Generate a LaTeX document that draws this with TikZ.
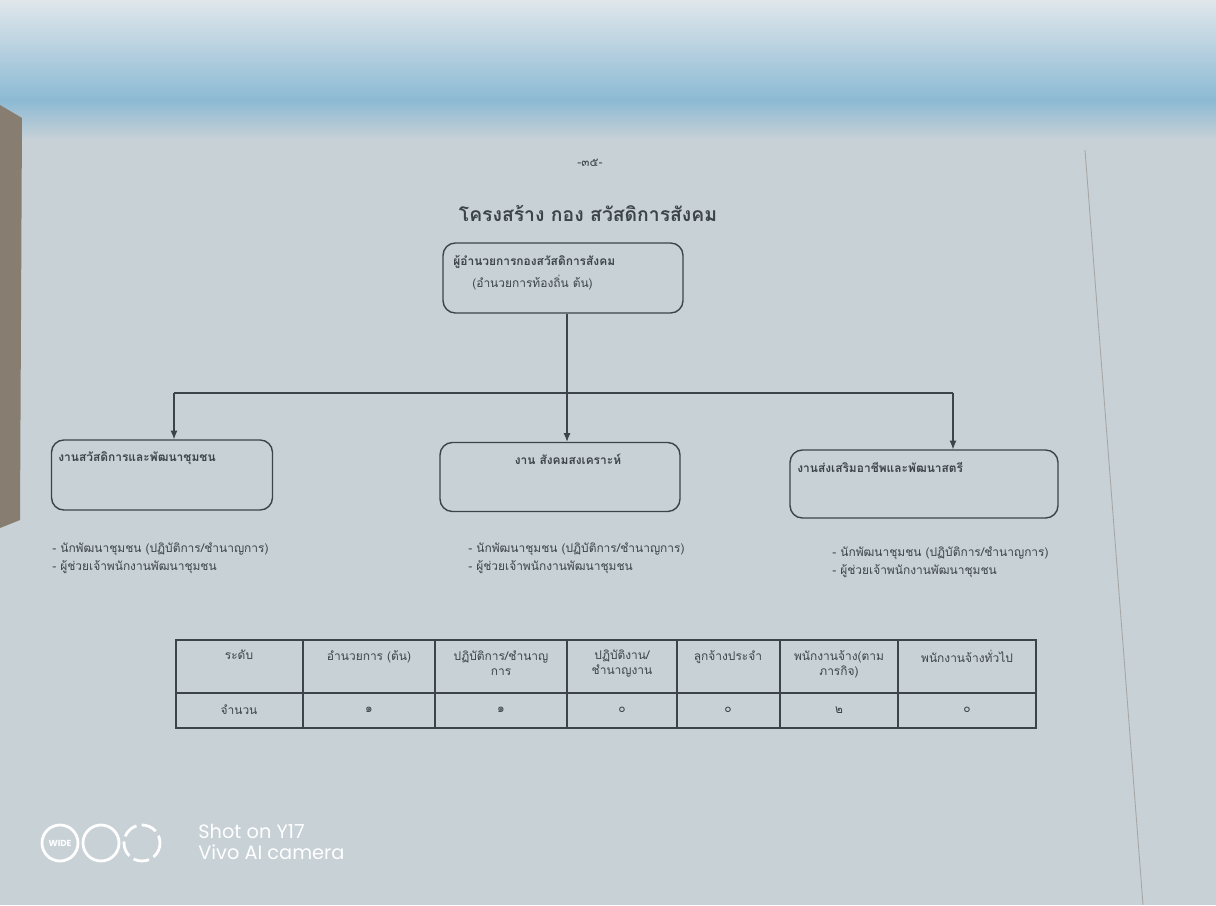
\documentclass[tikz,border=0pt]{standalone}
\usepackage{fontspec}
\newfontfamily\thai[Script=Thai]{Loma}
\newfontfamily\wm{Poppins}
\usetikzlibrary{arrows.meta}
\definecolor{papel}{HTML}{C8D1D6}
\definecolor{tinta}{HTML}{3C4448}
\definecolor{cielo}{HTML}{E0E7EB}
\definecolor{azul}{HTML}{8CBAD4}
\begin{document}
\begin{tikzpicture}[x=.02cm, y=-.02cm,
    caja/.style={draw=tinta, line width=.8pt, rounded corners=7pt},
    txt/.style={inner sep=0pt, text=tinta, font=\thai\fontsize{6.8}{8.5}\selectfont},
    negrita/.style={txt, font=\thai\bfseries\fontsize{6.8}{8.5}\selectfont},
    flecha/.style={draw=tinta, line width=.6pt, -{Latex[length=5pt,width=4pt]}}]
  % fondo de la foto
  \fill[papel] (0,0) rectangle (1216,905);
  \shade[top color=cielo, bottom color=azul] (0,0) rectangle (1216,100);
  \shade[top color=azul, bottom color=papel] (0,100) rectangle (1216,140);
  \fill[brown!30!black!60] (0,105) -- (22,118) -- (20,520) -- (0,528) -- cycle;
  \draw[black!35, line width=.5pt] (1085,150) -- (1143,905);
  % encabezado
  \node[txt] (pag) at (590,163) {-๓๕-};
  \node[txt, font=\thai\bfseries\fontsize{11}{13}\selectfont] (titulo) at (588,213) {โครงสร้าง กอง สวัสดิการสังคม};
  % cajas
  \node[caja, minimum width=4.8cm, minimum height=1.4cm] (jefe) at (563,278) {};
  \node[negrita, anchor=west] (jefe1) at (453,262) {ผู้อำนวยการกองสวัสดิการสังคม};
  \node[txt, anchor=west] (jefe2) at (472,283) {(อำนวยการท้องถิ่น ต้น)};
  \node[caja, minimum width=4.42cm, minimum height=1.4cm] (izq) at (162,475) {};
  \node[negrita, anchor=west] (izqt) at (58,458) {งานสวัสดิการและพัฒนาชุมชน};
  \node[caja, minimum width=4.8cm, minimum height=1.38cm] (medio) at (560,477) {};
  \node[negrita] (mediot) at (568,459) {งาน สังคมสงเคราะห์};
  \node[caja, minimum width=5.36cm, minimum height=1.36cm] (der) at (924,484) {};
  \node[negrita, anchor=west] (dert) at (797,467) {งานส่งเสริมอาชีพและพัฒนาสตรี};
  % conectores
  \coordinate (bi) at (174,393);
  \coordinate (bd) at (953,393);
  \draw[tinta, line width=.6pt] (bi) -- (bd);
  \draw[flecha] (jefe.south -| 567,0) -- (medio.north -| 567,0);
  \draw[flecha] (bi) -- (bi |- izq.north);
  \draw[flecha] (bd) -- (bd |- der.north);
  % listas de puestos
  \foreach \x/\y [count=\i] in {52/558, 468/558, 832/562}
    \node[txt, anchor=west, align=left] (lista\i) at (\x,\y)
      {- นักพัฒนาชุมชน (ปฏิบัติการ/ชำนาญการ)\\[2pt]- ผู้ช่วยเจ้าพนักงานพัฒนาชุมชน};
  % tabla
  \draw[tinta, line width=.6pt] (176,640) rectangle (1036,728);
  \draw[tinta, line width=.6pt] (176,693) -- (1036,693);
  \foreach \c in {303,435,567,677,780,898}
    \draw[tinta, line width=.6pt] (\c,640) -- (\c,728);
  \foreach \x/\t [count=\i] in {239/{ระดับ}, 369/{อำนวยการ (ต้น)}, 501/{ปฏิบัติการ/ชำนาญ\\การ},
      622/{ปฏิบัติงาน/\\ชำนาญงาน}, 728/{ลูกจ้างประจำ}, 839/{พนักงานจ้าง(ตาม\\ภารกิจ)}, 967/{พนักงานจ้างทั่วไป}}
    \node[txt, anchor=north, align=center] (cab\i) at (\x,650) {\t};
  \foreach \x/\t [count=\i] in {239/จำนวน, 369/๑, 501/๑, 622/๐, 728/๐, 839/๒, 967/๐}
    \node[txt] (num\i) at (\x,710) {\t};
  % marca de la camara
  \foreach \x [count=\i] in {60,101}
    \draw[white, line width=1.6pt] (\x,843) circle (18) coordinate (ic\i);
  \draw[white, line width=1.6pt, dash pattern=on 9pt off 3pt] (142,843) circle (18);
  \node[text=white, font=\wm\bfseries\fontsize{5}{5}\selectfont] (wide) at (60,843) {WIDE};
  \node[text=white, font=\wm\fontsize{11}{12}\selectfont, anchor=west, align=left, inner sep=0pt] (marca) at (198,842)
    {Shot on Y17\\Vivo AI camera};
\end{tikzpicture}
\end{document}
